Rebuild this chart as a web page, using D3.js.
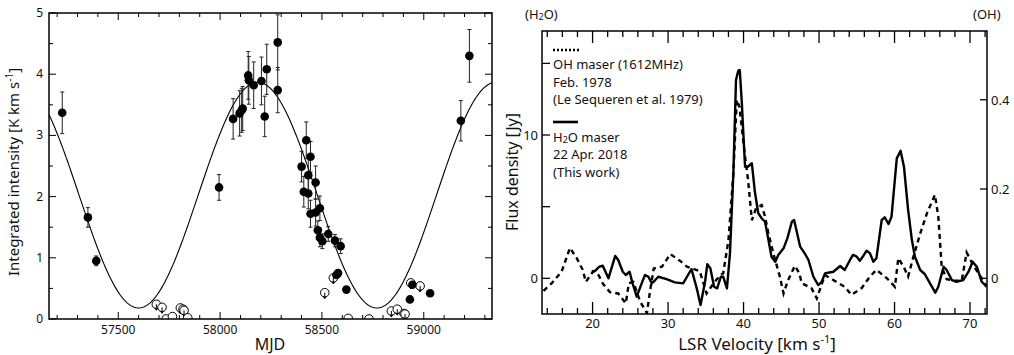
<html>
<head>
<script src="https://cdn.jsdelivr.net/npm/d3@7"></script>
<style>
body { margin: 0; background: #fff; }
text { font-family: 'Noto Sans', sans-serif; fill: #111; }
</style>
</head>
<body>
<script>

// ---- left panel data: [MJD, intensity, error]
var detections = [[57225,3.37,0.34],[57351,1.66,0.16],[57392,0.95,0.08],[57995,2.15,0.21],
  [58064,3.27,0.33],[58096,3.36,0.37],[58106,3.41,0.36],[58111,3.44,0.36],[58138,3.98,0.39],
  [58141,3.90,0.39],[58165,3.82,0.38],[58203,3.89,0.39],[58219,3.31,0.33],[58229,4.08,0.41],
  [58283,4.52,0.45],[58283,3.74,0.37],[58400,2.49,0.25],[58411,2.08,0.25],[58423,2.92,0.30],
  [58433,2.35,0.28],[58433,2.05,0.25],[58444,2.65,0.25],[58444,1.72,0.22],[58469,2.23,0.27],
  [58469,1.74,0.22],[58480,1.45,0.15],[58490,1.81,0.20],[58490,1.33,0.15],[58502,1.27,0.12],
  [58531,1.39,0.12],[58564,1.28,0.10],[58592,1.19,0.12],[58571,0.72,0],[58579,0.75,0],
  [58620,0.48,0],[58932,0.32,0],[58944,0.56,0],[59031,0.42,0],[59182,3.24,0.33],[59224,4.30,0.43]];

// upper limits: [MJD, intensity]
var upperLimits = [[57687,0.24],[57715,0.19],[57735,0.0],[57766,0.04],[57805,0.18],[57818,0.16],
  [57823,0.14],[57841,0.02],[58514,0.43],[58556,0.67],[58629,0.01],[58731,0.0],[58841,0.13],
  [58870,0.16],[58903,0.09],[58908,0.08],[58936,0.59],[58982,0.54]];

// sinusoidal fit
var fitPeriod = 1170, fitPeakMJD = 58185, fitMax = 3.87, fitMin = 0.18;

var mjdTicks = [57500, 58000, 58500, 59000];
var intensityTicks = [0, 1, 2, 3, 4, 5];

// ---- right panel data: [LSR velocity, flux]
var h2oSpectrum = [[19.9,0.46],[20.3,0.51],[20.9,0.81],[21.35,0.88],[22.1,0.0],[23.0,1.56],[23.4,1.28],
  [24.0,0.46],[24.4,0.23],[24.9,0.46],[25.3,-0.35],[25.85,-1.28],[26.5,-0.35],[26.95,0.23],[27.4,0.11],
  [27.85,-0.35],[28.3,-0.12],[28.7,0.11],[29.8,-0.05],[30.9,-0.28],[32.0,-0.35],[33.1,0.65],[33.8,-0.70],
  [34.3,-1.86],[34.9,-0.24],[35.2,0.98],[35.6,0.70],[36.1,-0.59],[36.5,-0.70],[37.0,0.11],[37.3,0.11],
  [37.8,-0.70],[38.2,1.74],[38.65,7.33],[39.0,13.84],[39.3,14.49],[39.5,14.54],[39.75,12.44],[40.2,7.79],
  [40.6,7.79],[41.1,8.03],[41.5,6.04],[41.95,4.54],[42.4,4.19],[42.85,3.95],[43.3,2.68],[43.7,1.51],
  [44.2,1.16],[44.6,1.63],[45.3,2.09],[45.8,2.79],[46.4,3.95],[46.7,4.07],[47.05,3.25],[47.5,2.21],
  [48.1,1.74],[48.6,1.28],[49.25,0.11],[49.9,-0.47],[50.35,-0.24],[50.8,0.35],[51.2,0.39],[51.9,0.46],
  [52.8,0.86],[53.4,0.58],[54.1,1.28],[54.5,1.63],[55.0,1.51],[55.4,1.23],[55.95,1.63],[56.3,1.93],
  [56.75,1.74],[57.2,1.16],[57.6,1.40],[58.3,4.07],[58.7,4.26],[59.2,3.79],[59.6,4.30],[60.3,8.37],
  [60.8,8.90],[61.25,7.79],[61.8,4.77],[62.3,2.67],[62.7,1.51],[63.4,0.58],[64.0,0.30],[64.7,-0.35],
  [65.4,-1.0],[65.8,-0.59],[66.5,0.81],[66.9,0.58],[67.6,-0.12],[68.2,-0.24],[69.1,-0.12],[69.8,0.46],
  [70.35,1.16],[70.9,0.81],[71.55,-0.24],[72.2,-0.59]];

var ohSpectrum = [[13.5,-0.028],[14.6,-0.011],[15.9,0.015],[17.0,0.068],[17.9,0.045],[18.7,0.019],
  [19.1,-0.008],[20.1,0.016],[20.8,0.007],[21.4,-0.013],[22.3,-0.031],[23.4,-0.034],[24.4,-0.056],
  [24.8,-0.011],[25.4,-0.008],[26.3,-0.052],[27.2,-0.078],[27.6,-0.030],[28.1,0.022],[29.2,0.026],
  [30.3,0.054],[31.6,0.039],[32.5,0.026],[34.2,0.016],[35.1,-0.034],[36.0,-0.012],[36.9,0.007],
  [37.3,0.011],[38.0,0.085],[38.65,0.235],[39.1,0.40],[39.45,0.384],[39.75,0.34],[40.2,0.272],
  [40.6,0.22],[41.1,0.13],[41.65,0.157],[42.4,0.164],[42.85,0.138],[43.3,0.10],[43.95,0.056],
  [44.8,0.004],[45.3,-0.034],[45.9,-0.004],[46.8,0.028],[47.4,0.011],[47.7,-0.011],[49.0,-0.022],
  [49.7,-0.045],[50.4,-0.011],[50.8,0.007],[51.9,-0.004],[53.4,-0.019],[54.3,-0.037],[55.65,-0.022],
  [56.75,0.004],[57.6,0.019],[59.0,0.0],[60.05,-0.019],[60.5,0.045],[61.2,0.026],[61.8,0.004],
  [62.5,0.048],[63.4,0.10],[64.3,0.146],[65.35,0.187],[65.8,0.138],[66.25,0.026],[66.9,-0.002],
  [68.0,-0.005],[68.9,-0.006],[69.55,0.058],[70.4,0.03],[71.55,0.0],[72.2,-0.019]];

var velTicks = [20, 30, 40, 50, 60, 70];
var h2oTicks = [0, 10];
var ohTicks = [0, 0.2, 0.4];

var svg = d3.select('body').append('svg')
  .attr('width', 1014).attr('height', 355);

// ================= left panel =================
var L = {x0: 49, x1: 492, y0: 13, y1: 319};
var x1 = d3.scaleLinear().domain([57160, 59335]).range([L.x0, L.x1]);
var y1 = d3.scaleLinear().domain([0, 5]).range([L.y1, L.y0]);

var gl = svg.append('g');
gl.append('defs').append('clipPath').attr('id', 'clipL')
  .append('rect').attr('x', L.x0).attr('y', L.y0).attr('width', L.x1 - L.x0).attr('height', L.y1 - L.y0);

// ticks
d3.range(57200, 59301, 100).forEach(function(m){
  var len = (m % 500 == 0) ? 7 : 4;
  gl.append('line').attr('x1', x1(m)).attr('x2', x1(m)).attr('y1', L.y1).attr('y2', L.y1 - len).attr('stroke', '#000');
  gl.append('line').attr('x1', x1(m)).attr('x2', x1(m)).attr('y1', L.y0).attr('y2', L.y0 + len).attr('stroke', '#000');
});
d3.range(0, 5.01, 0.5).forEach(function(v){
  var len = (v % 1 == 0) ? 7 : 4;
  gl.append('line').attr('x1', L.x0).attr('x2', L.x0 + len).attr('y1', y1(v)).attr('y2', y1(v)).attr('stroke', '#000');
  gl.append('line').attr('x1', L.x1).attr('x2', L.x1 - len).attr('y1', y1(v)).attr('y2', y1(v)).attr('stroke', '#000');
});
gl.selectAll('.xl').data(mjdTicks).enter().append('text')
  .attr('x', function(d){ return x1(d); }).attr('y', 334)
  .attr('text-anchor', 'middle').attr('font-size', 12).text(function(d){ return d; });
gl.selectAll('.yl').data(intensityTicks).enter().append('text')
  .attr('x', 43).attr('y', function(d){ return y1(d) + 4; })
  .attr('text-anchor', 'end').attr('font-size', 12).text(function(d){ return d; });

// fit curve
var fitPts = d3.range(57160, 59336, 5).map(function(m){
  return [m, (fitMax + fitMin) / 2 + (fitMax - fitMin) / 2 * Math.cos(2 * Math.PI * (m - fitPeakMJD) / fitPeriod)];
});
gl.append('path').datum(fitPts)
  .attr('fill', 'none').attr('stroke', '#000').attr('stroke-width', 1.1)
  .attr('clip-path', 'url(#clipL)')
  .attr('d', d3.line().x(function(d){ return x1(d[0]); }).y(function(d){ return y1(d[1]); }));

// error bars
var eb = gl.append('g').attr('stroke', '#222').attr('stroke-width', 1);
detections.filter(function(d){ return d[2] > 0; }).forEach(function(d){
  var cx = x1(d[0]);
  eb.append('line').attr('x1', cx).attr('x2', cx).attr('y1', y1(d[1] - d[2])).attr('y2', y1(d[1] + d[2]));
  eb.append('line').attr('x1', cx - 2).attr('x2', cx + 2).attr('y1', y1(d[1] - d[2])).attr('y2', y1(d[1] - d[2]));
  eb.append('line').attr('x1', cx - 2).attr('x2', cx + 2).attr('y1', y1(d[1] + d[2])).attr('y2', y1(d[1] + d[2]));
});

// upper limits
var ul = gl.append('g').attr('clip-path', 'url(#clipL)');
upperLimits.forEach(function(d){
  var cx = x1(d[0]), cy = y1(d[1]);
  ul.append('circle').attr('cx', cx).attr('cy', cy).attr('r', 4.3)
    .attr('fill', '#fff').attr('stroke', '#000').attr('stroke-width', 1);
  if (d[1] > 0.05) {
    ul.append('line').attr('x1', cx).attr('x2', cx).attr('y1', cy).attr('y2', cy + 5.5).attr('stroke', '#000');
    ul.append('path').attr('d', 'M' + (cx - 1.5) + ',' + (cy + 3.5) + 'L' + cx + ',' + (cy + 6) + 'L' + (cx + 1.5) + ',' + (cy + 3.5))
      .attr('fill', 'none').attr('stroke', '#000');
  }
});

gl.selectAll('.pt').data(detections).enter().append('circle')
  .attr('cx', function(d){ return x1(d[0]); }).attr('cy', function(d){ return y1(d[1]); })
  .attr('r', 4.3).attr('fill', '#000');

gl.append('rect').attr('x', L.x0).attr('y', L.y0).attr('width', L.x1 - L.x0).attr('height', L.y1 - L.y0)
  .attr('fill', 'none').attr('stroke', '#000').attr('stroke-width', 1.5);

gl.append('text').attr('x', 270).attr('y', 350).attr('text-anchor', 'middle').attr('font-size', 16).text('MJD');
var yt = gl.append('text').attr('transform', 'translate(19,172) rotate(-90)')
  .attr('text-anchor', 'middle').attr('font-size', 15);
yt.append('tspan').text('Integrated intensity [K km s');
yt.append('tspan').attr('font-size', 10).attr('dy', -6).text('-1');
yt.append('tspan').attr('dy', 6).text(']');

// ================= right panel =================
var R = {x0: 542, x1: 987, y0: 31, y1: 314};
var x2 = d3.scaleLinear().domain([13.3, 72.25]).range([R.x0, R.x1]);
var yH = d3.scaleLinear().domain([-2.49, 17.26]).range([R.y1, R.y0]);
var yO = d3.scaleLinear().domain([-0.08, 0.554]).range([R.y1, R.y0]);

var gr = svg.append('g');
gr.append('defs').append('clipPath').attr('id', 'clipR')
  .append('rect').attr('x', R.x0).attr('y', R.y0).attr('width', R.x1 - R.x0).attr('height', R.y1 - R.y0);

d3.range(14, 72.1, 2).forEach(function(v){
  var len = (v % 10 == 0) ? 12 : 6;
  gr.append('line').attr('x1', x2(v)).attr('x2', x2(v)).attr('y1', R.y1).attr('y2', R.y1 - len).attr('stroke', '#000').attr('stroke-width', 1.3);
  gr.append('line').attr('x1', x2(v)).attr('x2', x2(v)).attr('y1', R.y0).attr('y2', R.y0 + len).attr('stroke', '#000').attr('stroke-width', 1.3);
});
[0, 5, 10, 15].forEach(function(v){
  gr.append('line').attr('x1', R.x0).attr('x2', R.x0 + 8).attr('y1', yH(v)).attr('y2', yH(v)).attr('stroke', '#000').attr('stroke-width', 1.3);
});
ohTicks.forEach(function(v){
  gr.append('line').attr('x1', R.x1).attr('x2', R.x1 - 7).attr('y1', yO(v)).attr('y2', yO(v)).attr('stroke', '#000').attr('stroke-width', 1.3);
});
gr.selectAll('.vl').data(velTicks).enter().append('text')
  .attr('x', function(d){ return x2(d); }).attr('y', 328)
  .attr('text-anchor', 'middle').attr('font-size', 13).text(function(d){ return d; });
gr.selectAll('.hl').data(h2oTicks).enter().append('text')
  .attr('x', 538).attr('y', function(d){ return yH(d) + 5; })
  .attr('text-anchor', 'end').attr('font-size', 13).text(function(d){ return d; });
gr.selectAll('.ol').data(ohTicks).enter().append('text')
  .attr('x', 991).attr('y', function(d){ return yO(d) + 5; })
  .attr('font-size', 13).text(function(d){ return d; });

gr.append('path').datum(ohSpectrum)
  .attr('fill', 'none').attr('stroke', '#000').attr('stroke-width', 2.4).attr('stroke-dasharray', '5,4')
  .attr('clip-path', 'url(#clipR)')
  .attr('d', d3.line().x(function(d){ return x2(d[0]); }).y(function(d){ return yO(d[1]); }));
gr.append('path').datum(h2oSpectrum)
  .attr('fill', 'none').attr('stroke', '#000').attr('stroke-width', 2.4).attr('stroke-linejoin', 'round')
  .attr('clip-path', 'url(#clipR)')
  .attr('d', d3.line().x(function(d){ return x2(d[0]); }).y(function(d){ return yH(d[1]); }));

gr.append('rect').attr('x', R.x0).attr('y', R.y0).attr('width', R.x1 - R.x0).attr('height', R.y1 - R.y0)
  .attr('fill', 'none').attr('stroke', '#000').attr('stroke-width', 1.5);

// legend
gr.append('line').attr('x1', 553).attr('x2', 579).attr('y1', 50).attr('y2', 50)
  .attr('stroke', '#000').attr('stroke-width', 2.4).attr('stroke-dasharray', '2,2');
gr.append('line').attr('x1', 553).attr('x2', 578).attr('y1', 122).attr('y2', 122)
  .attr('stroke', '#000').attr('stroke-width', 2.6);
var legTxt = [['OH maser (1612MHz)', 69], ['Feb. 1978', 87], ['(Le Sequeren et al. 1979)', 104],
              ['22 Apr. 2018', 159], ['(This work)', 177]];
legTxt.forEach(function(t){
  gr.append('text').attr('x', 553).attr('y', t[1]).attr('font-size', 13).text(t[0]);
});
var h2oLab = gr.append('text').attr('x', 553).attr('y', 142).attr('font-size', 13);
h2oLab.append('tspan').text('H');
h2oLab.append('tspan').attr('font-size', 9).attr('dy', 1).text('2');
h2oLab.append('tspan').attr('dy', -1).text('O maser');

var tl = gr.append('text').attr('x', 525).attr('y', 19).attr('font-size', 13);
tl.append('tspan').text('(H');
tl.append('tspan').attr('font-size', 9).attr('dy', 1).text('2');
tl.append('tspan').attr('dy', -1).text('O)');
gr.append('text').attr('x', 973).attr('y', 19).attr('font-size', 13).text('(OH)');

var xl = gr.append('text').attr('x', 757).attr('y', 350).attr('text-anchor', 'middle').attr('font-size', 17);
xl.append('tspan').text('LSR Velocity [km s');
xl.append('tspan').attr('font-size', 11).attr('dy', -7).text('-1');
xl.append('tspan').attr('dy', 7).text(']');

gr.append('text').attr('transform', 'translate(518,172) rotate(-90)')
  .attr('text-anchor', 'middle').attr('font-size', 16).text('Flux density [Jy]');

</script>
</body>
</html>
